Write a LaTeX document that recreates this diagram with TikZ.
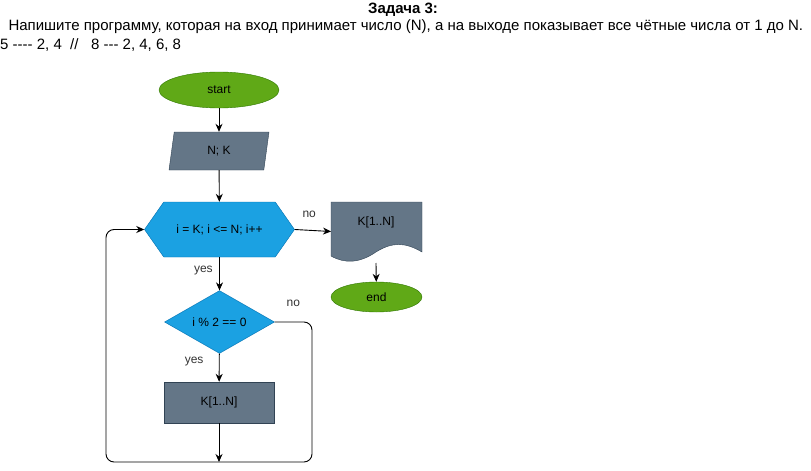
\documentclass[tikz,border=0pt]{standalone}
\usepackage{fontspec}
\setmainfont{Liberation Sans}
\usepackage{xcolor}
\usetikzlibrary{positioning, shapes.geometric, shapes.symbols, arrows.meta}
\definecolor{termfill}{HTML}{60A917}
\definecolor{termline}{HTML}{2D7600}
\definecolor{datafill}{HTML}{647687}
\definecolor{dataline}{HTML}{314354}
\definecolor{loopfill}{HTML}{1BA1E2}
\definecolor{loopline}{HTML}{006EAF}

\begin{document}
\begin{tikzpicture}[x=1pt, y=-1pt, font=\fontsize{12}{14}\selectfont,
    terminal/.style={ellipse, fill=termfill, draw=termline, inner sep=0pt},
    inout/.style={trapezium, trapezium left angle=62, trapezium right angle=118, trapezium stretches body, fill=datafill, draw=dataline, minimum width=100, minimum height=38, inner sep=0pt},
    loopbox/.style={signal, signal to=east and west, signal pointer angle=110, fill=loopfill, draw=loopline, minimum width=150, minimum height=55, inner sep=0pt},
    test/.style={diamond, fill=loopfill, draw=loopline, minimum width=110, minimum height=58, inner sep=0pt},
    block/.style={rectangle, fill=datafill, draw=dataline, minimum width=110, minimum height=41},
    arr/.style={-{Stealth[length=8pt, width=7pt]}, line width=0.9pt},
    lbl/.style={text=black!80}]
  \useasboundingbox (0,0) rectangle (811,471);
  % task text
  \node[font=\fontsize{15}{17}\selectfont\bfseries] (title) at (403,10) {Задача 3:};
  \node[anchor=west, font=\fontsize{15}{17}\selectfont] (task) at (5,27) {Напишите программу, которая на вход принимает число (N), а на выходе показывает все чётные числа от 1 до N.};
  \node[anchor=west, font=\fontsize{15}{17}\selectfont, inner sep=0pt] (ex) at (0,45) {5 -{}-{}-{}- 2, 4 \ //\ \ \ 8 -{}-{}- 2, 4, 6, 8};
  % flowchart
  \node[terminal, minimum width=120, minimum height=36] (start) at (219,90) {start};
  \node[inout] (input) at (219,151) {N; K};
  \node[loopbox] (loop) at (219.5,229.5) {i = K; i <= N; i++};
  \node[test] (even) at (219.5,322) {i \% 2 == 0};
  \node[block] (put) at (219,402.5) {K[1..N]};
  \fill[datafill, draw=dataline] (331,202) -- (422,202) -- (422,252)
      .. controls (405,242) and (392,242) .. (376,252)
      .. controls (360,263) and (345,264) .. (331,256) -- cycle;
  \node (output) at (376,222) {K[1..N]};
  \node[terminal, minimum width=91, minimum height=30] (end) at (376.5,297) {end};
  \coordinate (docin) at (331,231.5);
  \coordinate (docout) at (376,263);
  \coordinate (back) at (219,462);
  \draw[arr] (start) -- (input);
  \draw[arr] (input) -- (loop);
  \draw[arr] (loop) -- node[lbl, pos=0.4, left=3pt] {yes} (even);
  \draw[arr] (even) -- node[lbl, pos=0.3, left=12pt] {yes} (put);
  \draw[arr] (put) -- (back);
  \draw[arr] (loop.east) -- node[lbl, above=9pt, pos=0.4] {no} (docin);
  \draw[arr] (docout) -- (end);
  \draw[arr, rounded corners=8] (even.east) -- node[lbl, above=12pt, pos=0.5] {no} (312,322) -- (312,462) -- (106,462) -- (106,229.5) -- (loop.west);
\end{tikzpicture}
\end{document}
